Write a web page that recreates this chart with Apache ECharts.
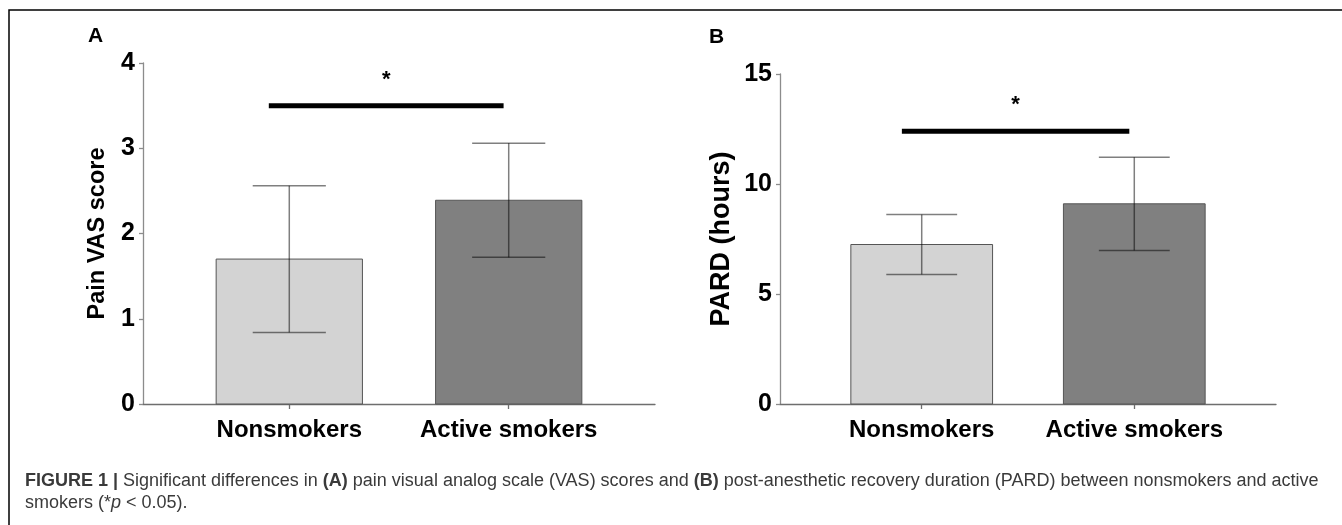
<!DOCTYPE html>
<html>
<head>
<meta charset="utf-8">
<script src="https://cdn.jsdelivr.net/npm/echarts@6/dist/echarts.min.js"></script>
<style>
  html, body { margin: 0; padding: 0; background: #fff; }
  #chart { width: 1342px; height: 525px; }
</style>
</head>
<body>
<div id="chart"></div>
<script>
// 两组，在 x 轴上分别居中于 3 和 6（轴范围 1~8）
const groups = ['Nonsmokers', 'Active smokers'];
const groupPos = [3, 6];
const barColors = ['#d3d3d3', '#808080'];

// A: Pain VAS score（均值 / 标准差）
const vasMean = [1.7, 2.39];
const vasSd = [0.86, 0.67];
const vasSig = [2.72, 5.93, 3.5, 3.8]; // 起点, 终点, 横线高度, 星号高度

// B: PARD (hours)
const pardMean = [7.25, 9.1];
const pardSd = [1.36, 2.12];
const pardSig = [2.72, 5.93, 12.4, 13.6];

const font = '"Liberation Sans", Arial, Helvetica, sans-serif';

const barData = (means, sds) => means.map((m, i) => [groupPos[i], m, sds[i]]);

// 柱子：宽度 2 个单位
const renderBar = (params, api) => {
  const x = api.value(0);
  const y = api.value(1);
  const p0 = api.coord([x - 1, 0]);
  const p1 = api.coord([x + 1, y]);
  return {
    type: 'rect',
    shape: { x: p0[0], y: p1[1], width: p1[0] - p0[0], height: p0[1] - p1[1] },
    style: { fill: barColors[params.dataIndex], stroke: '#555', lineWidth: 1 },
  };
};

// 误差线：帽宽 1 个单位
const renderErr = (params, api) => {
  const x = api.value(0);
  const m = api.value(1);
  const sd = api.value(2);
  const top = api.coord([x, m + sd]);
  const bot = api.coord([x, m - sd]);
  const l = api.coord([x - 0.5, 0])[0];
  const r = api.coord([x + 0.5, 0])[0];
  const style = { stroke: 'rgba(0,0,0,0.5)', lineWidth: 1.5 };
  return {
    type: 'group',
    children: [
      { type: 'line', shape: { x1: top[0], y1: top[1], x2: bot[0], y2: bot[1] }, style },
      { type: 'line', shape: { x1: l, y1: top[1], x2: r, y2: top[1] }, style },
      { type: 'line', shape: { x1: l, y1: bot[1], x2: r, y2: bot[1] }, style },
    ],
  };
};

// 显著性横线 + 星号
const renderSig = (params, api) => {
  const x1 = api.value(0);
  const x2 = api.value(1);
  const a = api.coord([x1, api.value(2)]);
  const b = api.coord([x2, api.value(2)]);
  const s = api.coord([(x1 + x2) / 2, api.value(3)]);
  return {
    type: 'group',
    children: [
      { type: 'line', shape: { x1: a[0], y1: a[1], x2: b[0], y2: b[1] }, style: { stroke: '#000', lineWidth: 5 } },
      {
        type: 'text', x: s[0], y: s[1],
        style: { text: '*', fontSize: 22, fontWeight: 'bold', fontFamily: font, fill: '#000', align: 'center', verticalAlign: 'middle' },
      },
    ],
  };
};

const xAxisOf = (gi) => ({
  gridIndex: gi,
  type: 'value',
  min: 1,
  max: 8,
  splitLine: { show: false },
  axisLine: { show: true, lineStyle: { color: '#6e6e6e', width: 1.3 } },
  axisTick: { show: true, customValues: groupPos, length: 5, lineStyle: { color: '#6e6e6e', width: 1.3 } },
  axisLabel: {
    customValues: groupPos,
    formatter: (v) => groups[groupPos.indexOf(v)],
    fontSize: 24, fontWeight: 'bold', color: '#000', fontFamily: font, margin: 14,
  },
});

const yAxisOf = (gi, max, interval, name, nameSize, nameGap) => ({
  gridIndex: gi,
  type: 'value',
  min: 0,
  max: max,
  interval: interval,
  name: name,
  nameLocation: 'middle',
  nameGap: nameGap,
  nameTextStyle: { fontSize: nameSize, fontWeight: 'bold', color: '#000', fontFamily: font },
  splitLine: { show: false },
  axisLine: { show: true, lineStyle: { color: '#8c8c8c', width: 1.3 } },
  axisTick: { show: true, length: 4, lineStyle: { color: '#8c8c8c', width: 1.3 } },
  axisLabel: { fontSize: 25, fontWeight: 'bold', color: '#000', fontFamily: font, margin: 8 },
});

const chart = echarts.init(document.getElementById('chart'), null, { renderer: 'canvas' });

const option = {
  animation: false,
  backgroundColor: '#fff',
  grid: [
    { left: 143, top: 63, width: 512, height: 341 },
    { left: 780, top: 74, width: 496, height: 330 },
  ],
  xAxis: [xAxisOf(0), xAxisOf(1)],
  yAxis: [
    yAxisOf(0, 4, 1, 'Pain VAS score', 23.5, 33),
    yAxisOf(1, 15, 5, 'PARD (hours)', 27, 45),
  ],
  series: [
    { type: 'custom', xAxisIndex: 0, yAxisIndex: 0, renderItem: renderBar, data: barData(vasMean, vasSd), encode: { x: 0, y: 1 }, z: 2 },
    { type: 'custom', xAxisIndex: 0, yAxisIndex: 0, renderItem: renderErr, data: barData(vasMean, vasSd), encode: { x: 0, y: 1 }, z: 3 },
    { type: 'custom', xAxisIndex: 0, yAxisIndex: 0, renderItem: renderSig, data: [vasSig], encode: { x: [0, 1], y: [2, 3] }, z: 3 },
    { type: 'custom', xAxisIndex: 1, yAxisIndex: 1, renderItem: renderBar, data: barData(pardMean, pardSd), encode: { x: 0, y: 1 }, z: 2 },
    { type: 'custom', xAxisIndex: 1, yAxisIndex: 1, renderItem: renderErr, data: barData(pardMean, pardSd), encode: { x: 0, y: 1 }, z: 3 },
    { type: 'custom', xAxisIndex: 1, yAxisIndex: 1, renderItem: renderSig, data: [pardSig], encode: { x: [0, 1], y: [2, 3] }, z: 3 },
  ],
  graphic: [
    // 外框（上、左）
    {
      type: 'polyline',
      shape: { points: [[9, 525], [9, 10], [1342, 10]] },
      style: { stroke: '#000', lineWidth: 1.5, fill: null },
    },
    { type: 'text', left: 88, top: 26, style: { text: 'A', fontSize: 21, fontWeight: 'bold', fontFamily: font, fill: '#000' } },
    { type: 'text', left: 709, top: 27, style: { text: 'B', fontSize: 21, fontWeight: 'bold', fontFamily: font, fill: '#000' } },
    // 图注
    {
      type: 'text', left: 25, top: 472,
      style: {
        text: '{b|FIGURE 1} {b||} Significant differences in {b|(A)} pain visual analog scale (VAS) scores and {b|(B)} post-anesthetic recovery duration (PARD) between nonsmokers and active',
        fontSize: 18, fontFamily: font, fill: '#3a3a3a',
        rich: { b: { fontSize: 18, fontFamily: font, fontWeight: 'bold', fill: '#3a3a3a' } },
      },
    },
    {
      type: 'text', left: 25, top: 494,
      style: {
        text: 'smokers (*{i|p} < 0.05).',
        fontSize: 18, fontFamily: font, fill: '#3a3a3a',
        rich: { i: { fontSize: 18, fontFamily: font, fontStyle: 'italic', fill: '#3a3a3a' } },
      },
    },
  ],
};

chart.setOption(option);
window.addEventListener('resize', () => chart.resize());
</script>
</body>
</html>
